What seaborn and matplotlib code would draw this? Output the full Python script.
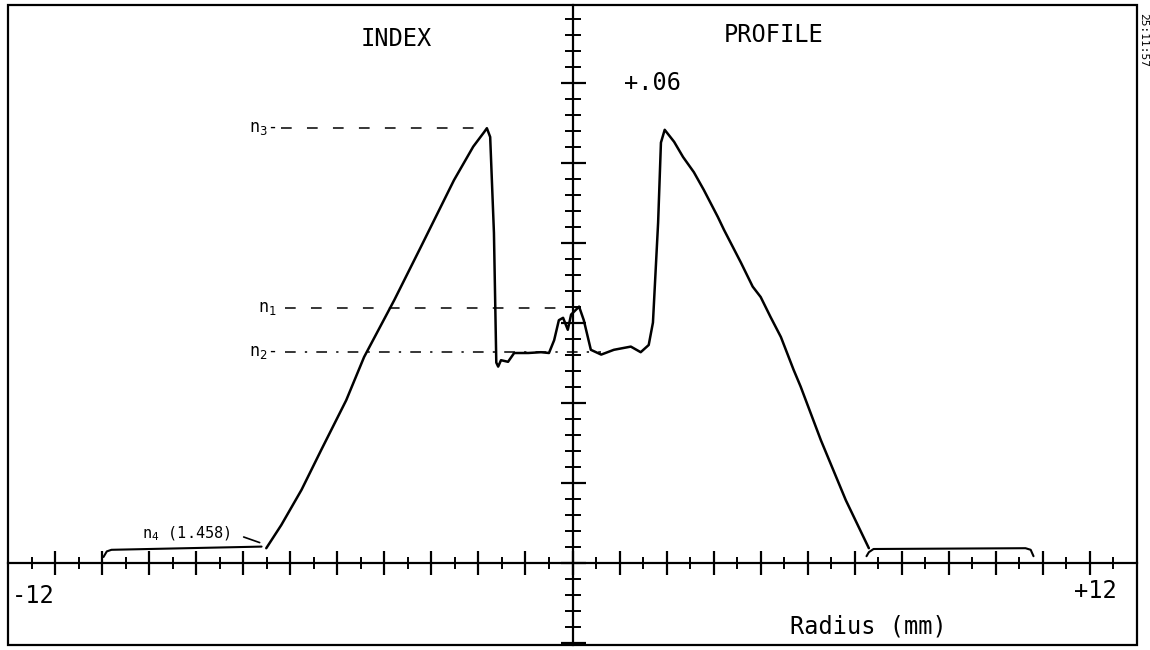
import matplotlib
matplotlib.use("Agg")
import matplotlib.pyplot as plt
import seaborn as sns
import numpy as np
import pandas as pd
from matplotlib.patches import Rectangle

# ---- data (radius in mm, index difference) ----
left_radius = [-6.51, -6.19, -5.76, -5.34, -4.81, -4.43, -3.79, -3.22, -2.52, -2.11,
               -1.88, -1.82, -1.75, -1.67, -1.62, -1.58, -1.52, -1.37, -1.24, -0.94,
               -0.67, -0.50, -0.39, -0.29, -0.20, -0.10, -0.03, 0.14, 0.24, 0.39,
               0.61, 0.88, 1.24, 1.45, 1.62, 1.71, 1.82, 1.88, 1.96, 2.16,
               2.35, 2.58, 2.79, 3.09, 3.22, 3.58, 3.83, 4.00, 4.21, 4.43,
               4.70, 4.85, 5.28, 5.81, 6.30]
delta_n = [0.0019, 0.0048, 0.0092, 0.0142, 0.0204, 0.0258, 0.0329, 0.0396, 0.0479, 0.0521,
           0.0539, 0.0544, 0.0533, 0.0413, 0.0251, 0.0246, 0.0254, 0.0252, 0.0263, 0.0263,
           0.0264, 0.0263, 0.0279, 0.0304, 0.0307, 0.0292, 0.0311, 0.0321, 0.0304, 0.0267,
           0.0261, 0.0267, 0.0271, 0.0264, 0.0273, 0.0301, 0.0426, 0.0526, 0.0542, 0.0527,
           0.0508, 0.0489, 0.0467, 0.0433, 0.0417, 0.0376, 0.0346, 0.0333, 0.0308, 0.0283,
           0.0242, 0.0221, 0.0154, 0.0079, 0.0019]

# reference levels
level_names = ["n3", "n1", "n2"]
level_values = [0.0544, 0.0319, 0.0264]
level_x_start = [-6.19, -6.12, -6.12]
level_x_end = [-1.94, -0.14, 0.60]

# n4 cladding brackets
bracket_left_x = [-9.97, -9.90, -9.80, -6.61]
bracket_left_y = [0.0008, 0.0015, 0.0017, 0.0021]
bracket_right_x = [6.25, 6.30, 6.40, 9.63, 9.74, 9.80]
bracket_right_y = [0.0009, 0.0014, 0.0018, 0.0019, 0.0017, 0.0009]

x_major = list(range(-11, 12))
x_minor = [v + 0.5 for v in range(-12, 12)]
y_major = [-0.01, 0.0, 0.01, 0.02, 0.03, 0.04, 0.05, 0.06]
y_minor = [round(-0.010 + 0.002 * k, 3) for k in range(0, 40)]

sns.set_theme(style="white")
plt.rcParams["font.family"] = ["DejaVu Sans Mono", "DejaVu Sans"]
plt.rcParams["text.color"] = "black"

fig = plt.figure(figsize=(11.5, 6.5), dpi=100)
ax = fig.add_axes([8 / 1150, 5 / 650, 1129 / 1150, 640 / 650])
ax.set_xlim(-12.0, 12.0)
ax.set_ylim(-0.0102, 0.0698)

df = pd.DataFrame({"radius": left_radius, "dn": delta_n})
sns.lineplot(data=df, x="radius", y="dn", sort=False, estimator=None,
             color="black", lw=1.8, ax=ax)

# reference level lines
styles = [(0, (7, 10)), (0, (7, 10)), (0, (7, 6, 1.5, 6))]
for nm, val, xs, xe, st in zip(level_names, level_values, level_x_start, level_x_end, styles):
    ax.plot([xs, xe], [val, val], color="black", lw=1.1, ls=st)

ax.plot(bracket_left_x, bracket_left_y, color="black", lw=1.5)
ax.plot(bracket_right_x, bracket_right_y, color="black", lw=1.5)
ax.plot([-6.99, -6.65], [0.0033, 0.0026], color="black", lw=1.2)

# axes through origin
for s in ["top", "right"]:
    ax.spines[s].set_visible(False)
ax.spines["left"].set_position(("data", 0))
ax.spines["bottom"].set_position(("data", 0))
for s in ["left", "bottom"]:
    ax.spines[s].set_color("black")
    ax.spines[s].set_linewidth(1.6)

ax.set_xticks(x_major)
ax.set_xticks(x_minor, minor=True)
ax.set_yticks(y_major)
ax.set_yticks(y_minor, minor=True)
ax.set_xticklabels([])
ax.set_yticklabels([])
ax.tick_params(axis="x", which="major", direction="inout", length=17, width=1.6, color="black", bottom=True)
ax.tick_params(axis="x", which="minor", direction="inout", length=9, width=1.4, color="black", bottom=True)
ax.tick_params(axis="y", which="major", direction="inout", length=18, width=1.6, color="black", left=True)
ax.tick_params(axis="y", which="minor", direction="inout", length=11, width=1.4, color="black", left=True)
ax.set_xlabel("")
ax.set_ylabel("")
ax.grid(False)

# outer frame
ax.add_patch(Rectangle((0, 0), 1, 1, transform=ax.transAxes, fill=False,
                       edgecolor="black", lw=1.6, clip_on=False))

# texts
big = 17
ax.text(-3.75, 0.0656, "INDEX", ha="center", va="center", fontsize=big, color="black")
ax.text(4.28, 0.0661, "PROFILE", ha="center", va="center", fontsize=big, color="black")
ax.text(1.71, 0.0601, "+.06", ha="center", va="center", fontsize=big, color="black")
ax.text(6.30, -0.0079, "Radius (mm)", ha="center", va="center", fontsize=big, color="black")
ax.text(-11.46, -0.0041, "-12", ha="center", va="center", fontsize=big, color="black")
ax.text(11.11, -0.0034, "+12", ha="center", va="center", fontsize=big, color="black")

small = 12
ax.text(-6.3, 0.0544, r"n$_3$-", ha="right", va="center", fontsize=small, color="black")
ax.text(-6.3, 0.0319, r"n$_1$", ha="right", va="center", fontsize=small, color="black")
ax.text(-6.3, 0.0264, r"n$_2$-", ha="right", va="center", fontsize=small, color="black")
ax.text(-8.21, 0.0037, r"n$_4$ (1.458)", ha="center", va="center", fontsize=11, color="black")

fig.text(1143 / 1150, 1 - 40 / 650, "25:11:57", rotation=-90, ha="center", va="center",
         fontsize=8, color="black")

fig.savefig("out.png", dpi=100, facecolor="white")
